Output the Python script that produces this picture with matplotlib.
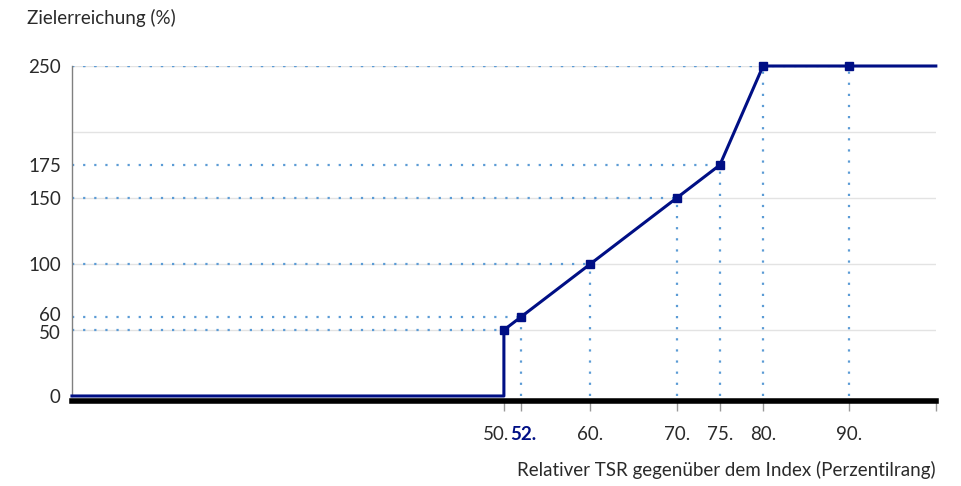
import matplotlib

matplotlib.use("Agg")
import matplotlib.pyplot as plt
from matplotlib.transforms import ScaledTranslation

# payout curve: relative TSR percentile rank vs. target achievement
curve_x = [0, 50, 50, 52, 60, 70, 75, 80, 90, 100]
curve_y = [0, 0, 50, 60, 100, 150, 175, 250, 250, 250]
marker_x = [50, 52, 60, 70, 75, 80, 90]
marker_y = [50, 60, 100, 150, 175, 250, 250]

y_ticks = [0, 50, 60, 100, 150, 175, 250]
x_ticks = [50, 52, 60, 70, 75, 80, 90]
x_tick_labels = ["50.", "52.", "60.", "70.", "75.", "80.", "90."]
grid_levels = [50, 100, 150, 200, 250]

NAVY = "#000f85"
DOT_BLUE = "#5b9bd5"
TEXT = "#2a2a2a"

plt.rcParams["font.family"] = ["Lato", "DejaVu Sans"]

fig = plt.figure(figsize=(9.62, 4.86), dpi=100)
ax = fig.add_axes([0.0748, 0.1757, 0.898, 0.6885])
ax.set_xlim(0, 100)
ax.set_ylim(-3.5, 250)

for g in grid_levels:
    ax.axhline(g, color="#e3e3e3", lw=1, zorder=0)

# dotted guide lines from each marker to both axes
for xv, yv in zip(marker_x, marker_y):
    ax.plot([0, xv], [yv, yv], ls=(0, (1, 4)), color=DOT_BLUE, lw=1.6, zorder=1)
    if xv != 50:
        ax.plot([xv, xv], [0, yv], ls=(0, (1, 4)), color=DOT_BLUE, lw=1.6, zorder=1)

ax.plot(curve_x, curve_y, color=NAVY, lw=2.2, zorder=3, clip_on=False)
ax.plot(marker_x, marker_y, ls="none", marker="s", ms=6, color=NAVY, zorder=4,
        clip_on=False)

for side in ["top", "right"]:
    ax.spines[side].set_visible(False)
ax.spines["left"].set_color("#808080")
ax.spines["left"].set_linewidth(1)
ax.spines["left"].set_bounds(0, 250)
ax.spines["bottom"].set_color("black")
ax.spines["bottom"].set_linewidth(4)

ax.set_yticks(y_ticks)
ax.set_yticklabels([str(v) for v in y_ticks])
ax.tick_params(axis="y", length=0, pad=8, labelsize=13.5, labelcolor=TEXT)
ax.set_xticks(x_ticks)
ax.set_xticklabels(x_tick_labels)
ax.set_xticks([100], minor=True)
ax.tick_params(axis="x", which="both", length=7, width=1, color="#999999",
               pad=11, labelsize=13.5, labelcolor=TEXT)

# nudge the crowded labels apart
def shift(label, dx, dy):
    label.set_transform(label.get_transform()
                        + ScaledTranslation(dx / 100, dy / 100, fig.dpi_scale_trans))

for lbl in ax.get_xticklabels():
    if lbl.get_text() == "52.":
        lbl.set_color(NAVY)
        lbl.set_fontweight("bold")
        shift(lbl, 2, 0)
    elif lbl.get_text() == "50.":
        shift(lbl, -8, 0)
for lbl in ax.get_yticklabels():
    if lbl.get_text() == "60":
        shift(lbl, 0, 3)
    elif lbl.get_text() == "50":
        shift(lbl, 0, -2)

fig.text(0.028, 0.962, "Zielerreichung (%)", fontsize=13.5, color=TEXT,
         va="center", ha="left")
fig.text(0.973, 0.033, "Relativer TSR gegenüber dem Index (Perzentilrang)",
         fontsize=13.5, color=TEXT, va="center", ha="right")

fig.savefig("out.png", dpi=100)
